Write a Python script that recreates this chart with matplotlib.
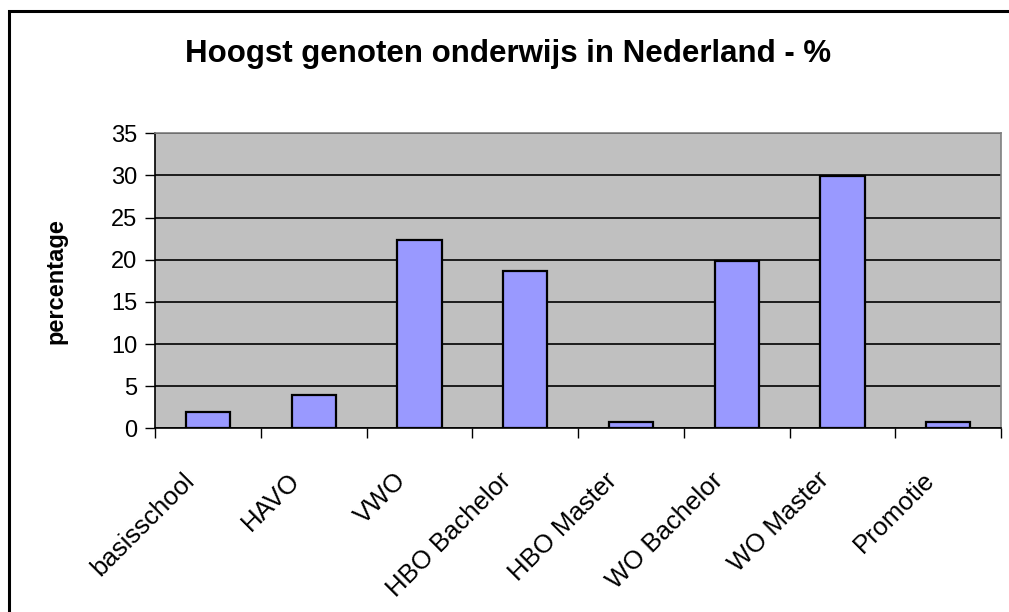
import numpy as np
import matplotlib.pyplot as plt
import matplotlib.transforms as mtransforms
from matplotlib.patches import Rectangle

plt.rcParams['font.family'] = ['Liberation Sans', 'DejaVu Sans']

# Data
categories = ['basisschool', 'HAVO', 'VWO', 'HBO Bachelor', 'HBO Master',
              'WO Bachelor', 'WO Master', 'Promotie']
percentages = [1.9, 4.0, 22.3, 18.7, 0.7, 19.9, 29.9, 0.7]
y_ticks = [0, 5, 10, 15, 20, 25, 30, 35]

fig = plt.figure(figsize=(10.09, 6.12), dpi=100)
fig.patch.set_facecolor('white')

# outer chart border (runs off the right/bottom edge like the original)
fig.add_artist(Rectangle((8.5 / 1009, -0.05), 1.1, 1 - 10.5 / 612 + 0.05,
                         transform=fig.transFigure, fill=False,
                         edgecolor='black', linewidth=2.2, clip_on=False))

ax = fig.add_axes([155.3 / 1009, (612 - 428.3) / 612,
                   (1001 - 155.3) / 1009, (428.3 - 133.3) / 612])
ax.set_facecolor('#C0C0C0')

x = np.arange(len(categories))
ax.bar(x, percentages, width=0.42, color='#9999FF', edgecolor='black',
       linewidth=1.6, zorder=3)

ax.set_xlim(-0.5, len(categories) - 0.5)
ax.set_ylim(0, 35)
ax.set_yticks(y_ticks)
ax.yaxis.grid(True, color='black', linewidth=1.2, zorder=1)
ax.set_axisbelow(True)

# category labels at centers, tick marks at boundaries
ax.set_xticks(x)
ax.set_xticklabels(categories, rotation=45, ha='right', va='bottom',
                   rotation_mode='anchor', fontsize=18.5)
ax.tick_params(axis='x', which='major', length=0, pad=30)
shift = mtransforms.ScaledTranslation(-0.09, -0.15, fig.dpi_scale_trans)
for lbl in ax.get_xticklabels():
    lbl.set_transform(lbl.get_transform() + shift)
ax.set_xticks(np.arange(len(categories) + 1) - 0.5, minor=True)
ax.tick_params(axis='x', which='minor', length=7, width=1, color='black')
ax.tick_params(axis='y', length=7, width=1, labelsize=17, pad=6)

for side in ['left', 'bottom']:
    ax.spines[side].set_color('black')
    ax.spines[side].set_linewidth(1.2)
for side in ['top', 'right']:
    ax.spines[side].set_color('#808080')
    ax.spines[side].set_linewidth(1.2)

ax.set_ylabel('percentage', fontsize=17, fontweight='bold', labelpad=31)

fig.text(508 / 1009, 1 - 54 / 612, 'Hoogst genoten onderwijs in Nederland - %',
         ha='center', va='center', fontsize=22.5, fontweight='bold')

fig.savefig('out.png', dpi=100)
